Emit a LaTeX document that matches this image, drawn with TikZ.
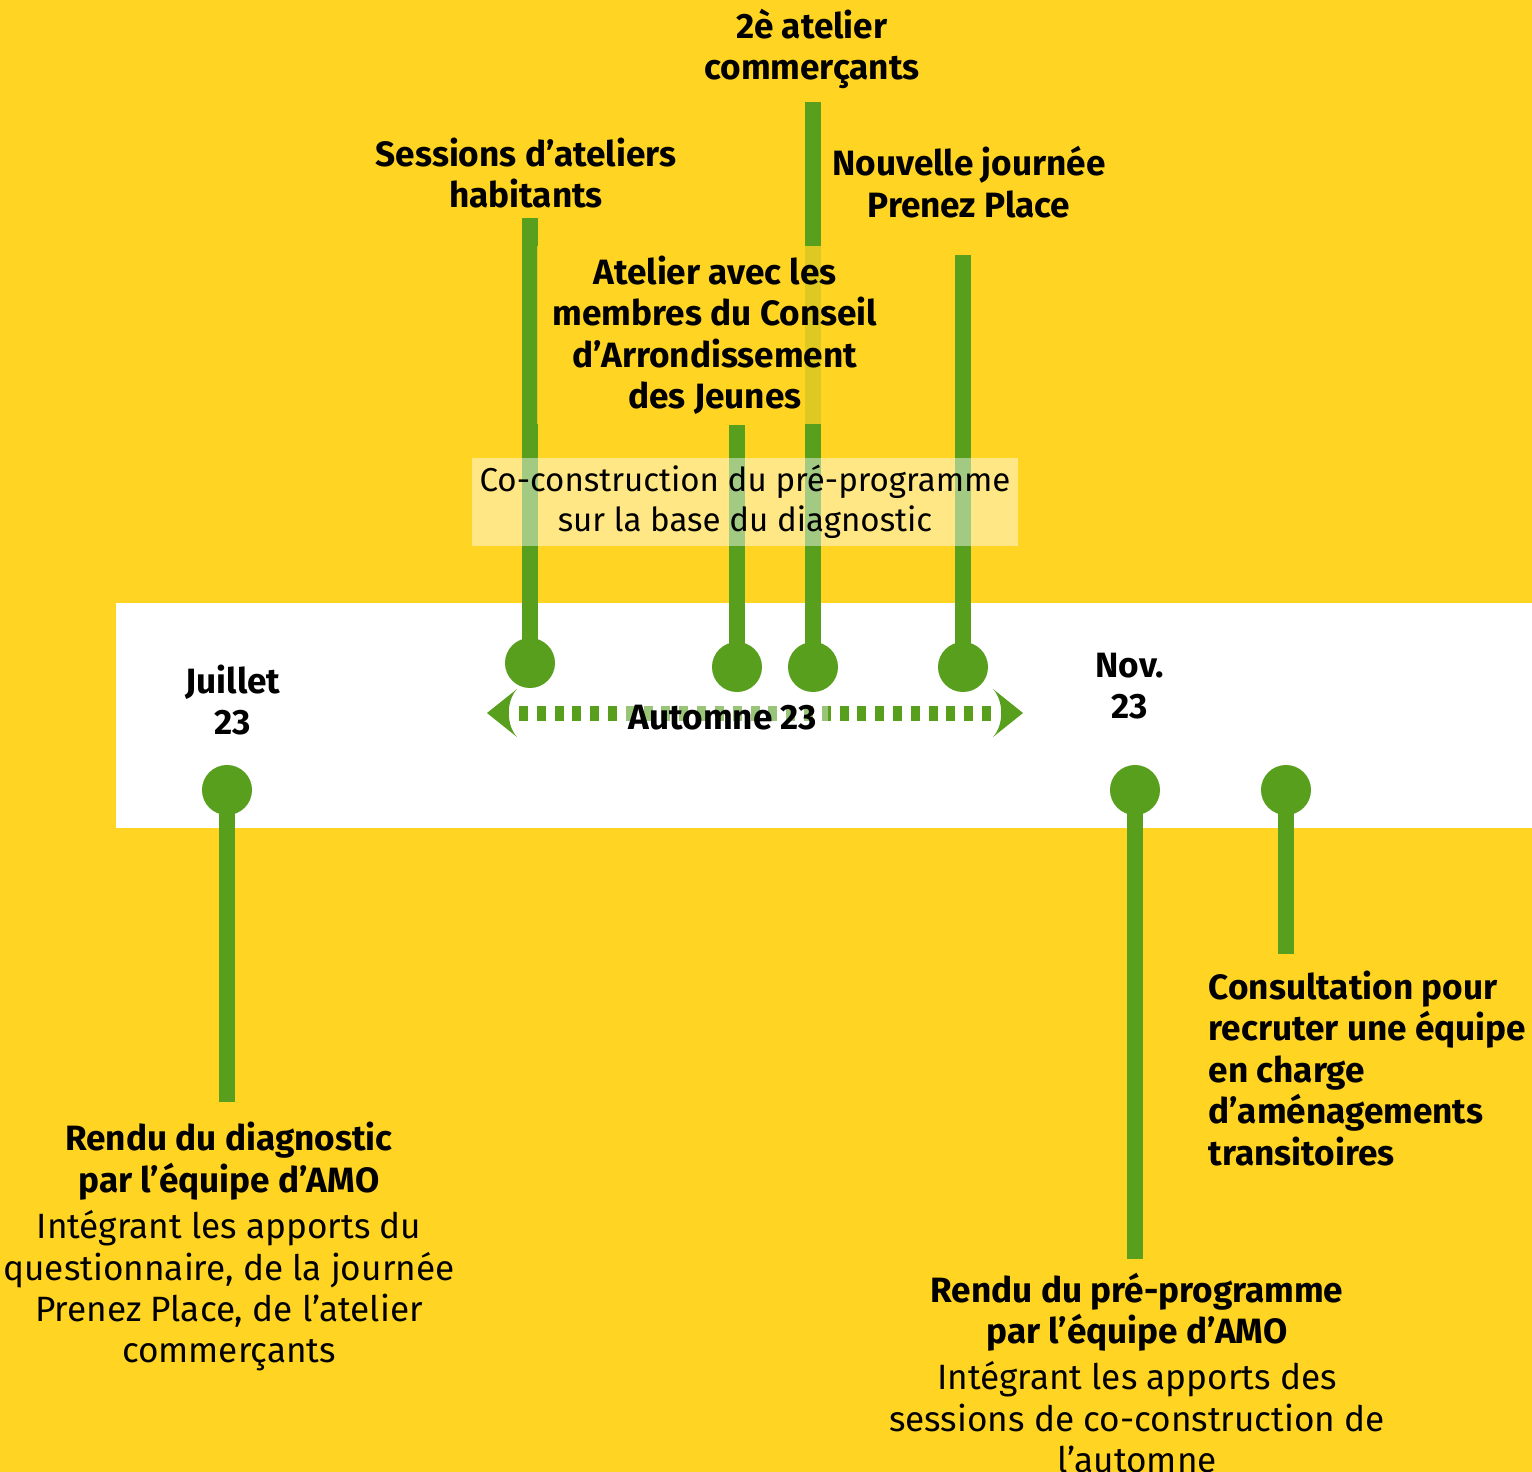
\documentclass[tikz,border=0pt]{standalone}
\usepackage{fontspec}
\setmainfont{Fira Sans}
\usepackage{tikz}
\usetikzlibrary{positioning}
\definecolor{bgyellow}{HTML}{FFD422}
\definecolor{tlgreen}{HTML}{589F1E}

\begin{document}
\begin{tikzpicture}[x=0.01cm, y=-0.01cm,
  dotnode/.style={circle, fill=tlgreen, inner sep=0pt, minimum size=0.5cm},
  stemline/.style={draw=tlgreen, line width=0.16cm},
  boldtext/.style={align=center, inner sep=0pt, font=\fontsize{10}{11.8}\selectfont\bfseries},
  plaintext/.style={align=center, inner sep=0pt, font=\fontsize{10}{11.8}\selectfont}]

        \fill[bgyellow] (0,0) rectangle (1532,1472);
        \fill[white] (116,603) rectangle (1532,828);
        \useasboundingbox (0,0) rectangle (1532,1472);

        \node[dotnode] (j) at (227,790) {};
        \node[dotnode] (s) at (530,663) {};
        \node[dotnode] (a) at (737,667) {};
        \node[dotnode] (c) at (813,667) {};
        \node[dotnode] (p) at (963,667) {};
        \node[dotnode] (n) at (1135,790) {};
        \node[dotnode] (r) at (1286,790) {};

        \coordinate (je) at (227,1102);
        \coordinate (se) at (530,218);
        \coordinate (ae) at (737,425);
        \coordinate (ce) at (813,102);
        \coordinate (pe) at (963,255);
        \coordinate (ne) at (1135,1259);
        \coordinate (re) at (1286,954);

        \draw[stemline] (j.center) -- (je);
        \draw[stemline] (s.center) -- (se);
        \draw[stemline] (a.center) -- (ae);
        \draw[stemline] (c.center) -- (ce);
        \draw[stemline] (p.center) -- (pe);
        \draw[stemline] (n.center) -- (ne);
        \draw[stemline] (r.center) -- (re);

        \coordinate (l) at (487,713);
        \coordinate (rr) at (1023,713);
        \coordinate (lb) at (519,713);
        \coordinate (rb) at (992,713);
        \fill[tlgreen] (l) -- (517,689) .. controls (506,701) and (506,725) .. (517,737) -- cycle;
        \fill[tlgreen] (rr) -- (993,689) .. controls (1004,701) and (1004,725) .. (993,737) -- cycle;
        \draw[tlgreen, line width=0.15cm, dash pattern=on 0.09cm off 0.088cm] (lb) -- (rb);

        \node[boldtext, fill=white, fill opacity=0.4, text opacity=1, inner sep=3pt] (aut) at (723,718) {Automne 23};
        \node[boldtext] (jul) at (233,700) {Juillet\\23};
        \node[boldtext] (nov) at (1130,686) {Nov.\\23};

        \node[boldtext] (t1) at (812,49) {2è atelier\\commerçants};
        \node[boldtext] (t2) at (526,173) {Sessions d’ateliers\\habitants};
        \node[boldtext] (t3) at (969,182) {Nouvelle journée\\Prenez Place};
        \node[boldtext, fill=bgyellow, fill opacity=0.8, text opacity=1, minimum width=3.56cm, minimum height=1.77cm] (t4) at (715,335) {Atelier avec les\\membres du Conseil\\d’Arrondissement\\des Jeunes};
        \node[plaintext, font=\fontsize{9.4}{11.3}\selectfont, fill=white, fill opacity=0.45, text opacity=1, minimum width=5.45cm, minimum height=0.88cm] (co) at (745,502) {Co-construction du pré-programme\\sur la base du diagnostic};

        \node[boldtext] (t5) at (229,1161) {Rendu du diagnostic\\par l’équipe d’AMO};
        \node[plaintext] (b5) [below=0.09cm of t5] {Intégrant les apports du\\questionnaire, de la journée\\Prenez Place, de l’atelier\\commerçants};
        \node[boldtext] (t6) at (1137,1312) {Rendu du pré-programme\\par l’équipe d’AMO};
        \node[plaintext] (b6) [below=0.09cm of t6] {Intégrant les apports des\\sessions de co-construction de\\l’automne};
        \node[boldtext, align=left, anchor=north west] (t7) at (1208,970) {Consultation pour\\recruter une équipe\\en charge\\d’aménagements\\transitoires};

        \end{tikzpicture}
\end{document}
